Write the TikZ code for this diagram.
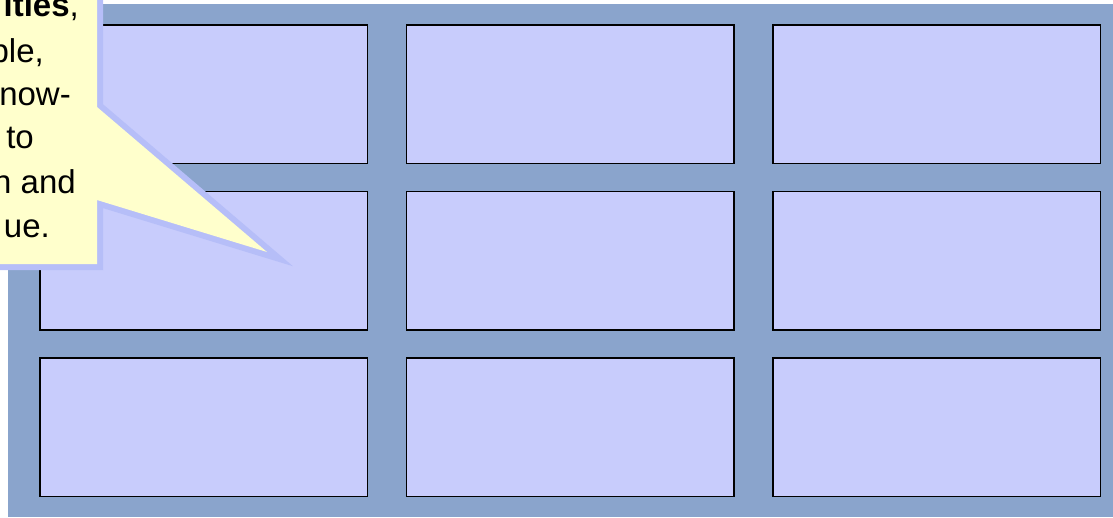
\documentclass[tikz,border=0pt]{standalone}
\usepackage{fontspec}
\setmainfont{Liberation Sans}
\definecolor{bgblue}{RGB}{138,164,204}
\definecolor{cellblue}{RGB}{200,204,252}
\definecolor{tipyellow}{RGB}{255,255,204}
\definecolor{tipshadow}{RGB}{182,190,248}
\tikzset{
    cell/.style={draw=black, fill=cellblue, line width=1.2pt},
    tiptext/.style={anchor=base east, inner sep=0pt, font=\fontsize{33}{44}\selectfont}
}
\begin{document}
\begin{tikzpicture}[x=1pt,y=-1pt]
    \def\W{1113}       % picture width
    \def\H{517}        % picture height
    \def\bx{40}        % first cell left edge
    \def\by{25}        % first cell top edge
    \def\bw{327.5}     % cell width
    \def\bh{138.5}     % cell height
    \def\gx{39}        % gap between columns
    \def\gy{28}        % gap between rows
    \def\cr{97}        % callout right edge
    \useasboundingbox (0,0) rectangle (\W,\H);
    \clip (0,0) rectangle (\W,\H);
    % Draw the background
    \fill[bgblue] (8,4) rectangle (\W,\H);
    % Draw the cells, row by row
    \begin{scope}[shift={(\bx,\by)}]
        \draw[cell] (0,0) rectangle (\bw,\bh);
        \draw[cell] ({\bw+\gx},0) rectangle ({2*\bw+\gx},\bh);
        \draw[cell] ({2*(\bw+\gx)},0) rectangle ({3*\bw+2*\gx},\bh);
    \end{scope}
    \begin{scope}[shift={(\bx,{\by+\bh+\gy})}]
        \draw[cell] (0,0) rectangle (\bw,\bh);
        \draw[cell] ({\bw+\gx},0) rectangle ({2*\bw+\gx},\bh);
        \draw[cell] ({2*(\bw+\gx)},0) rectangle ({3*\bw+2*\gx},\bh);
    \end{scope}
    \begin{scope}[shift={(\bx,{\by+2*(\bh+\gy)})}]
        \draw[cell] (0,0) rectangle (\bw,\bh);
        \draw[cell] ({\bw+\gx},0) rectangle ({2*\bw+\gx},\bh);
        \draw[cell] ({2*(\bw+\gx)},0) rectangle ({3*\bw+2*\gx},\bh);
    \end{scope}
    % Draw the callout with its shadow
    \coordinate (ctop) at (\cr,107);
    \coordinate (ctip) at (267,252);
    \coordinate (cbot) at (\cr,200);
    \draw[tipshadow, line width=12pt, line join=miter] (-20,-20) -- (\cr,-20) -- (ctop) -- (ctip) -- (cbot) -- (\cr,264) -- (-20,264) -- cycle;
    \fill[tipyellow] (-20,-20) -- (\cr,-20) -- (ctop) -- (ctip) -- (cbot) -- (\cr,264) -- (-20,264) -- cycle;
    % Callout text (cut at the left edge)
    \node[tiptext] (line1) at (79,16) {\textbf{ities},};
    \node[tiptext] (line2) at (44,62) {ple,};
    \node[tiptext] (line3) at (71,105) {now-};
    \node[tiptext] (line4) at (34,148) {to};
    \node[tiptext] (line5) at (76,193) {n and};
    \node[tiptext] (line6) at (50,237) {ue.};
\end{tikzpicture}
\end{document}
